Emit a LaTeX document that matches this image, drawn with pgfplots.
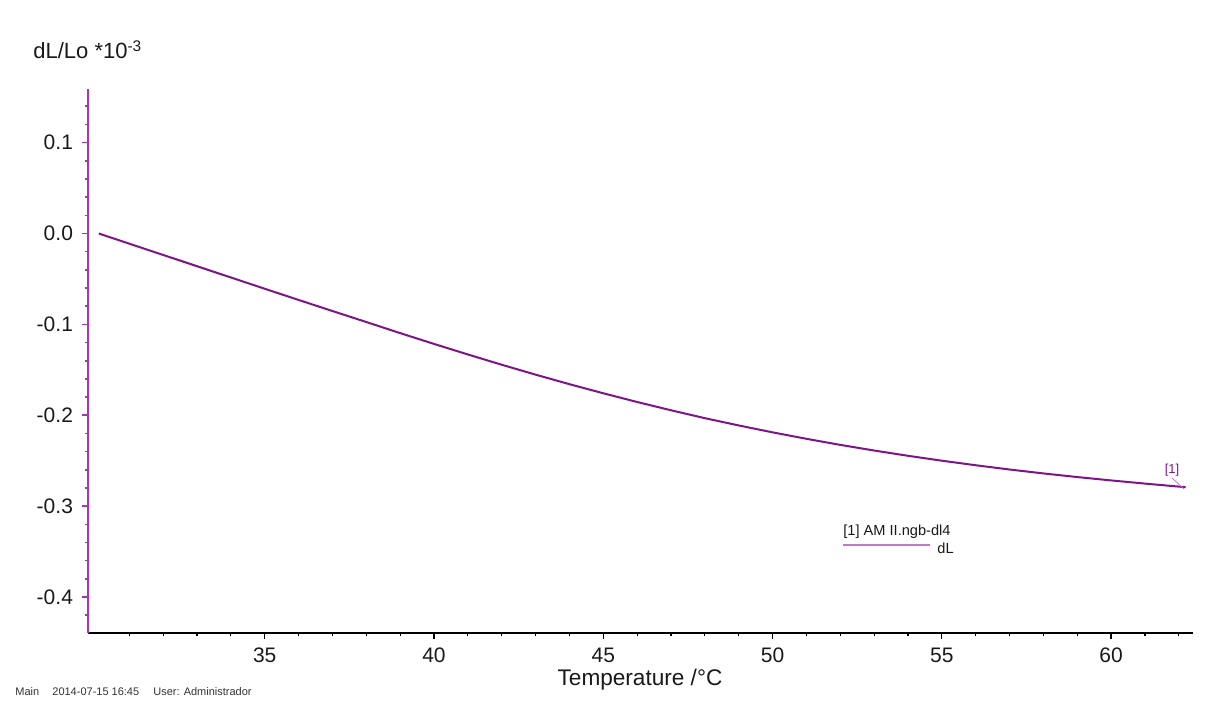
\documentclass[border=0pt]{standalone}
\usepackage{fontspec}
\setmainfont{Liberation Sans}
\usepackage{pgfplots}
\pgfplotsset{compat=1.18}
\definecolor{curvepurple}{RGB}{125,20,135}
\definecolor{axpurple}{RGB}{165,55,180}
\definecolor{legpurple}{RGB}{195,120,205}
\begin{document}
\begin{tikzpicture}[x=0.5pt,y=0.5pt]
\useasboundingbox (0,0) rectangle (1218,702);
\begin{axis}[
  at={(44pt,34.5pt)}, anchor=south west,
  scale only axis, width=552.5pt, height=272pt,
  xmin=29.78, xmax=62.42, ymin=-0.4396, ymax=0.159,
  axis lines*=left, separate axis lines,
  x axis line style={black, line width=0.8pt},
  y axis line style={axpurple, line width=1.1pt},
  tick align=outside,
  major tick length=3pt, minor tick length=1.7pt,
  xtick={35,40,45,50,55,60},
  minor xtick={31,32,33,34,36,37,38,39,41,42,43,44,46,47,48,49,51,52,53,54,56,57,58,59,61,62},
  ytick={-0.4,-0.3,-0.2,-0.1,0,0.1},
  yticklabels={-0.4,-0.3,-0.2,-0.1,0.0,0.1},
  minor ytick={-0.42,-0.38,-0.36,-0.34,-0.32,-0.28,-0.26,-0.24,-0.22,-0.18,-0.16,-0.14,-0.12,-0.08,-0.06,-0.04,-0.02,0.02,0.04,0.06,0.08,0.12,0.14},
  x tick style={black, line width=0.6pt},
  y tick style={axpurple, line width=0.8pt},
  /pgf/number format/assume math mode=true,
  ticklabel style={font=\fontsize{10.5}{12}\selectfont, text=black!90},
  xticklabel style={yshift=-1pt},
  yticklabel style={xshift=-1pt},
  clip=false,
]
\addplot[curvepurple, line width=1pt] coordinates {
(30.1,0) (31,-0.0112) (32,-0.0236) (33,-0.0360) (34,-0.0484) (35,-0.0608)
(36,-0.0731) (37,-0.0853) (38,-0.0974) (39,-0.1096) (40,-0.1215) (41,-0.1331)
(42,-0.1444) (43,-0.1553) (44,-0.1658) (45,-0.1758) (46,-0.1854) (47,-0.1945)
(48,-0.2032) (49,-0.2112) (50,-0.2188) (51,-0.2259) (52,-0.2326) (53,-0.2388)
(54,-0.2446) (55,-0.2500) (56,-0.2550) (57,-0.2597) (58,-0.2640) (59,-0.2680)
(60,-0.2717) (61,-0.2752) (62,-0.2785) (62.2,-0.2792)
};
\end{axis}
% axis titles
\node[anchor=base west, font=\fontsize{11}{13}\selectfont, text=black!90, inner sep=0] at (33,643) {dL/Lo *10\textsuperscript{-3}};
\node[anchor=base, font=\fontsize{11.3}{13}\selectfont, text=black!90, inner sep=0] at (640,17) {Temperature /°C};
% legend
\node[anchor=base west, font=\fontsize{7.3}{9}\selectfont, text=black!90, inner sep=0] at (843,167) {[1] AM II.ngb-dl4};
\draw[legpurple, line width=0.6pt] (843,157) -- (930,157);
\node[anchor=base west, font=\fontsize{7.3}{9}\selectfont, text=black!90, inner sep=0] at (937,149) {dL};
% curve label
\node[font=\fontsize{6.5}{8}\selectfont, text=curvepurple, inner sep=0] at (1172,232) {[1]};
\draw[legpurple, line width=0.4pt] (1172,224) -- (1184,213);
% footer
\node[anchor=base west, font=\fontsize{5.5}{7}\selectfont, text=black!80, inner sep=0] at (15,7) {Main};
\node[anchor=base west, font=\fontsize{5.5}{7}\selectfont, text=black!80, inner sep=0] at (52,7) {2014-07-15 16:45};
\node[anchor=base west, font=\fontsize{5.5}{7}\selectfont, text=black!80, inner sep=0] at (153,7) {User: Administrador};
\end{tikzpicture}
\end{document}
